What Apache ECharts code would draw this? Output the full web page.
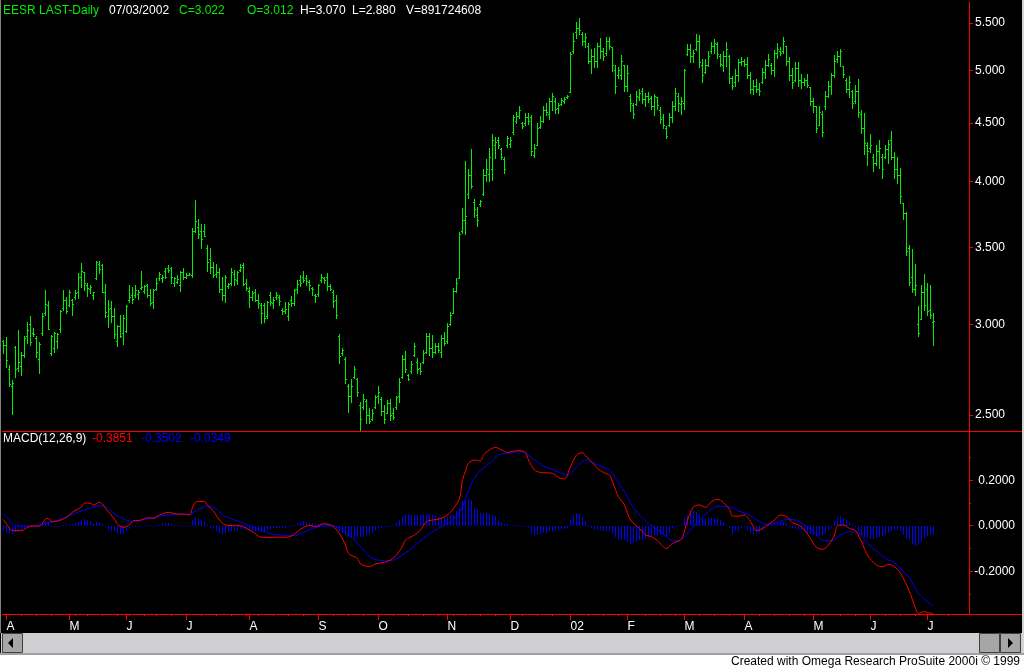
<!DOCTYPE html>
<html><head><meta charset="utf-8">
<script src="https://cdn.jsdelivr.net/npm/echarts/dist/echarts.min.js"></script>
<style>html,body{margin:0;padding:0;background:#000;}#chart{width:1024px;height:669px;}</style>
</head><body><div id="chart"></div>
<script>
// ---- Price data (EESR daily, bar index 0..310) ----
const opens = [
2.90,2.88,2.74,2.65,2.866,2.75,2.76,2.82,2.93,3.00,
2.95,2.92,2.80,2.95,3.07,3.12,2.83,2.86,2.90,2.97,
3.10,3.15,3.12,3.15,3.17,3.20,3.30,3.33,3.25,3.22,
3.18,3.29,3.39,3.38,3.20,3.05,3.10,3.05,2.90,2.99,
2.95,2.96,3.15,3.18,3.18,3.19,3.23,3.21,3.25,3.18,
3.14,3.22,3.29,3.29,3.34,3.36,3.36,3.26,3.27,3.25,
3.33,3.30,3.315,3.31,3.62,3.65,3.62,3.62,3.50,3.42,
3.37,3.32,3.33,3.22,3.18,3.24,3.26,3.32,3.28,3.35,
3.38,3.26,3.21,3.17,3.20,3.15,3.12,3.12,3.05,3.18,
3.13,3.17,3.17,3.09,3.08,3.05,3.15,3.13,3.22,3.28,
3.30,3.29,3.27,3.23,3.18,3.19,3.28,3.29,3.30,3.24,
3.20,3.15,2.93,2.83,2.80,2.65,2.60,2.70,2.69,2.55,
2.54,2.57,2.50,2.48,2.54,2.60,2.58,2.52,2.51,2.56,
2.51,2.54,2.60,2.70,2.80,2.71,2.73,2.82,2.78,2.75,
2.78,2.84,2.93,2.86,2.84,2.87,2.84,2.92,2.90,3.00,
3.07,3.21,3.29,3.62,3.70,3.90,4.05,3.84,3.74,3.82,
3.90,4.05,4.06,4.10,4.30,4.35,4.27,4.18,4.30,4.31,
4.42,4.52,4.56,4.50,4.50,4.55,4.55,4.22,4.30,4.46,
4.52,4.62,4.58,4.70,4.70,4.64,4.67,4.70,4.74,4.79,
5.20,5.40,5.45,5.38,5.30,5.25,5.10,5.15,5.10,5.25,
5.20,5.18,5.30,5.24,5.00,4.95,4.95,5.05,4.85,4.75,
4.66,4.67,4.74,4.80,4.72,4.75,4.73,4.65,4.74,4.62,
4.55,4.45,4.48,4.55,4.65,4.75,4.67,4.68,5.17,5.22,
5.15,5.22,5.30,5.05,4.98,5.05,5.20,5.25,5.27,5.15,
5.05,5.15,5.15,4.92,4.88,4.95,5.08,5.10,5.06,4.95,
4.82,4.85,4.82,4.88,4.98,5.05,5.05,5.00,5.18,5.20,
5.20,5.25,5.10,4.95,4.90,5.02,4.90,4.88,4.90,4.84,
4.70,4.65,4.48,4.58,4.65,4.75,4.85,4.95,5.12,5.15,
5.04,4.90,4.82,4.80,4.70,4.80,4.58,4.45,4.30,4.28,
4.20,4.15,4.25,4.20,4.20,4.27,4.35,4.20,4.10,4.05,
3.83,3.75,3.50,3.30,3.22,3.00,3.03,3.20,3.22,3.09,
3.012];
const highs = [
2.908,2.927,2.765,2.683,2.87,2.967,2.84,2.933,3.017,3.05,
2.98,2.933,2.893,3.068,3.215,3.145,2.937,2.957,2.947,3.088,
3.215,3.172,3.215,3.16,3.215,3.327,3.393,3.336,3.26,3.248,
3.204,3.408,3.408,3.388,3.254,3.151,3.147,3.098,2.997,3.058,
3.058,3.12,3.248,3.237,3.248,3.215,3.34,3.248,3.252,3.22,
3.22,3.29,3.336,3.314,3.36,3.38,3.37,3.30,3.314,3.34,
3.36,3.327,3.327,3.64,3.853,3.71,3.67,3.67,3.52,3.50,
3.40,3.386,3.36,3.30,3.314,3.26,3.36,3.347,3.34,3.388,
3.397,3.287,3.232,3.21,3.22,3.19,3.13,3.13,3.145,3.20,
3.172,3.204,3.18,3.10,3.14,3.14,3.177,3.22,3.28,3.31,
3.34,3.31,3.28,3.237,3.19,3.254,3.32,3.30,3.327,3.254,
3.215,3.183,2.943,2.862,2.81,2.66,2.688,2.76,2.693,2.567,
2.61,2.583,2.536,2.53,2.603,2.65,2.593,2.552,2.577,2.583,
2.536,2.60,2.693,2.821,2.844,2.715,2.787,2.89,2.804,2.776,
2.85,2.95,2.95,2.937,2.89,2.89,2.937,2.955,3.01,3.075,
3.23,3.29,3.61,3.79,4.17,4.10,4.27,3.86,3.80,3.853,
4.10,4.18,4.28,4.40,4.37,4.37,4.28,4.20,4.38,4.37,
4.57,4.60,4.655,4.51,4.59,4.59,4.57,4.31,4.50,4.56,
4.65,4.68,4.73,4.78,4.73,4.68,4.73,4.74,4.76,5.19,
5.39,5.51,5.56,5.40,5.39,5.28,5.22,5.23,5.28,5.34,
5.23,5.35,5.35,5.24,5.05,5.03,5.16,5.05,5.05,4.77,
4.68,4.80,4.82,4.83,4.78,4.79,4.75,4.77,4.74,4.645,
4.58,4.47,4.59,4.70,4.83,4.78,4.74,5.01,5.27,5.27,
5.21,5.38,5.37,5.12,5.12,5.20,5.29,5.33,5.29,5.17,
5.20,5.29,5.16,4.94,5.01,5.12,5.14,5.12,5.14,4.98,
4.90,4.91,4.87,5.02,5.11,5.17,5.07,5.21,5.28,5.24,
5.35,5.25,5.14,5.02,5.08,5.09,4.96,4.92,4.96,4.84,
4.73,4.655,4.655,4.61,4.80,4.89,4.97,5.16,5.20,5.22,
5.04,4.92,4.94,4.81,4.855,4.91,4.62,4.59,4.33,4.40,
4.23,4.30,4.35,4.23,4.30,4.35,4.43,4.24,4.20,4.11,
3.83,3.76,3.52,3.49,3.39,3.11,3.25,3.32,3.26,3.25,
3.070];
const lows = [
2.835,2.756,2.652,2.504,2.70,2.733,2.71,2.81,2.89,2.879,
2.933,2.81,2.72,2.937,3.058,2.971,2.82,2.84,2.863,2.957,
3.088,3.068,3.116,3.058,3.16,3.165,3.237,3.215,3.177,3.195,
3.16,3.287,3.327,3.20,3.047,2.987,3.017,2.917,2.875,2.927,
2.885,2.957,3.14,3.13,3.172,3.16,3.22,3.195,3.172,3.12,
3.10,3.215,3.28,3.269,3.29,3.33,3.26,3.24,3.26,3.21,
3.285,3.29,3.31,3.30,3.61,3.57,3.50,3.58,3.34,3.327,
3.30,3.303,3.204,3.151,3.14,3.226,3.248,3.244,3.254,3.343,
3.248,3.215,3.105,3.151,3.145,3.10,3.01,3.017,3.037,3.12,
3.10,3.16,3.12,3.062,3.068,3.027,3.116,3.12,3.198,3.24,
3.27,3.244,3.215,3.183,3.135,3.177,3.267,3.26,3.215,3.215,
3.105,3.037,2.776,2.821,2.666,2.516,2.567,2.693,2.60,2.42,
2.53,2.46,2.46,2.476,2.536,2.562,2.50,2.46,2.51,2.476,
2.48,2.53,2.567,2.693,2.727,2.683,2.72,2.816,2.72,2.715,
2.776,2.833,2.821,2.81,2.833,2.838,2.81,2.879,2.89,2.997,
3.07,3.20,3.29,3.605,3.60,3.87,3.95,3.72,3.66,3.81,
3.89,4.00,4.00,4.01,4.19,4.28,4.18,4.07,4.29,4.29,
4.40,4.50,4.545,4.45,4.48,4.49,4.22,4.20,4.30,4.45,
4.51,4.57,4.53,4.62,4.59,4.59,4.66,4.68,4.73,4.79,
5.18,5.34,5.38,5.26,5.24,5.07,4.97,5.03,5.03,5.13,
5.11,5.16,5.22,4.99,4.78,4.92,4.91,4.80,4.80,4.61,
4.54,4.66,4.71,4.68,4.65,4.69,4.63,4.57,4.63,4.50,
4.45,4.36,4.47,4.51,4.62,4.61,4.58,4.63,5.16,5.09,
5.08,5.21,5.03,4.88,4.97,5.04,5.18,5.18,5.13,5.04,
4.99,5.04,4.87,4.82,4.85,4.89,5.05,5.04,4.92,4.78,
4.77,4.79,4.76,4.87,4.92,5.04,4.96,4.94,5.13,5.16,
5.18,5.05,4.90,4.83,4.89,4.85,4.83,4.855,4.84,4.66,
4.60,4.42,4.48,4.38,4.63,4.74,4.77,4.93,5.09,5.04,
4.93,4.79,4.74,4.64,4.68,4.55,4.41,4.23,4.13,4.24,
4.08,4.13,4.11,4.03,4.19,4.15,4.18,4.03,3.99,3.83,
3.71,3.45,3.25,3.20,3.18,2.93,3.03,3.09,3.06,3.04,
2.880];
const closes = [
2.879,2.793,2.66,2.668,2.74,2.78,2.82,2.92,2.967,2.895,
2.94,2.84,2.884,3.05,3.125,2.975,2.93,2.95,2.94,3.08,
3.151,3.08,3.20,3.125,3.195,3.30,3.34,3.26,3.226,3.232,
3.20,3.40,3.352,3.20,3.075,3.092,3.053,2.943,2.99,2.93,
3.04,3.11,3.172,3.16,3.215,3.204,3.232,3.24,3.18,3.13,
3.215,3.258,3.32,3.303,3.303,3.347,3.30,3.29,3.287,3.33,
3.30,3.31,3.32,3.62,3.69,3.60,3.56,3.58,3.40,3.37,
3.31,3.336,3.22,3.183,3.30,3.255,3.33,3.287,3.33,3.37,
3.254,3.226,3.172,3.195,3.151,3.13,3.068,3.04,3.14,3.135,
3.151,3.18,3.147,3.08,3.092,3.125,3.13,3.215,3.254,3.258,
3.28,3.276,3.248,3.22,3.177,3.248,3.30,3.28,3.24,3.22,
3.145,3.058,2.815,2.85,2.688,2.60,2.65,2.74,2.62,2.48,
2.58,2.50,2.47,2.51,2.59,2.62,2.52,2.48,2.56,2.50,
2.49,2.59,2.67,2.80,2.74,2.69,2.77,2.87,2.74,2.73,
2.83,2.93,2.86,2.84,2.87,2.85,2.92,2.89,2.99,3.06,
3.21,3.26,3.60,3.70,3.73,4.05,3.96,3.78,3.70,3.845,
4.05,4.10,4.20,4.35,4.33,4.30,4.20,4.10,4.36,4.35,
4.55,4.56,4.62,4.47,4.55,4.52,4.25,4.28,4.45,4.52,
4.62,4.60,4.70,4.75,4.63,4.66,4.71,4.72,4.75,5.17,
5.30,5.45,5.42,5.30,5.35,5.10,5.15,5.10,5.25,5.20,
5.15,5.30,5.25,5.05,4.85,5.00,5.10,4.85,4.97,4.68,
4.58,4.75,4.78,4.72,4.75,4.72,4.65,4.75,4.66,4.53,
4.48,4.38,4.55,4.65,4.78,4.68,4.70,5.00,5.22,5.15,
5.18,5.30,5.08,4.95,5.05,5.15,5.25,5.28,5.17,5.06,
5.15,5.22,4.92,4.85,4.95,5.08,5.10,5.06,4.95,4.82,
4.85,4.82,4.80,4.98,5.05,5.12,5.00,5.18,5.22,5.18,
5.30,5.10,4.95,4.88,5.02,4.90,4.88,4.90,4.86,4.70,
4.65,4.45,4.60,4.42,4.75,4.85,4.95,5.10,5.15,5.20,
4.96,4.82,4.88,4.68,4.80,4.60,4.45,4.32,4.25,4.30,
4.15,4.25,4.28,4.10,4.27,4.31,4.20,4.10,4.05,3.88,
3.75,3.48,3.27,3.22,3.25,2.95,3.20,3.12,3.08,3.06,
3.022];

// ---- MACD(12,26,9) readings: [bar index, value] ----
const macdLine = [[0,0.028],[2,-0.012],[3,-0.022],[6,-0.022],[8,-0.007],[10,-0.001],[12,-0.001],[14,0.029],[15,0.032],[16,0.018],[18,0.020],[21,0.037],[23,0.059],[26,0.083],[27,0.100],[29,0.098],[30,0.091],[32,0.103],[33,0.094],[34,0.076],[37,0.029],[38,0.006],[40,-0.007],[42,0.003],[43,0.020],[46,0.025],[48,0.035],[50,0.032],[52,0.047],[55,0.059],[58,0.051],[60,0.051],[62,0.047],[63,0.081],[64,0.103],[67,0.107],[68,0.089],[70,0.064],[72,0.025],[74,0.003],[77,0.000],[79,0.000],[81,-0.012],[83,-0.026],[86,-0.051],[89,-0.051],[92,-0.050],[94,-0.051],[96,-0.045],[98,-0.026],[100,-0.007],[102,0.001],[104,-0.004],[107,0.009],[109,0.003],[110,-0.004],[112,-0.034],[114,-0.085],[115,-0.122],[118,-0.144],[119,-0.168],[122,-0.180],[124,-0.168],[127,-0.161],[129,-0.151],[131,-0.129],[133,-0.089],[134,-0.063],[137,-0.041],[139,-0.019],[141,0.018],[143,0.025],[146,0.032],[148,0.047],[150,0.076],[152,0.120],[153,0.201],[154,0.240],[155,0.275],[157,0.289],[159,0.284],[160,0.311],[162,0.333],[164,0.344],[166,0.333],[168,0.322],[170,0.328],[172,0.330],[174,0.321],[175,0.289],[177,0.245],[179,0.234],[183,0.230],[185,0.212],[187,0.205],[189,0.259],[191,0.311],[193,0.321],[194,0.308],[197,0.267],[198,0.252],[200,0.234],[202,0.223],[203,0.193],[205,0.127],[207,0.091],[209,0.025],[212,-0.012],[214,-0.041],[216,-0.048],[218,-0.066],[221,-0.100],[223,-0.078],[226,-0.059],[228,0.025],[230,0.083],[232,0.091],[234,0.081],[236,0.105],[238,0.116],[240,0.101],[242,0.072],[243,0.042],[245,0.042],[247,0.047],[249,0.018],[251,-0.022],[253,-0.012],[255,0.006],[257,0.025],[259,0.047],[261,0.040],[263,0.013],[265,0.003],[267,-0.019],[269,-0.056],[271,-0.095],[273,-0.104],[275,-0.085],[277,-0.041],[278,0.000],[280,0.003],[282,-0.012],[284,-0.022],[286,-0.070],[288,-0.129],[291,-0.173],[293,-0.180],[295,-0.170],[297,-0.180],[299,-0.209],[302,-0.290],[304,-0.363],[305,-0.385],[307,-0.378],[309,-0.385],[310,-0.3851]];
const signalLine = [[0,0.051],[2,0.025],[4,0.003],[8,-0.001],[11,-0.001],[13,0.007],[17,0.020],[20,0.032],[23,0.051],[27,0.069],[30,0.083],[33,0.088],[35,0.076],[37,0.051],[40,0.029],[43,0.020],[46,0.025],[49,0.032],[52,0.042],[55,0.047],[59,0.051],[62,0.051],[65,0.072],[68,0.086],[71,0.073],[73,0.047],[77,0.025],[80,0.013],[83,-0.007],[87,-0.026],[90,-0.038],[93,-0.041],[97,-0.044],[100,-0.029],[103,-0.012],[107,-0.001],[110,-0.001],[113,-0.019],[117,-0.063],[120,-0.107],[123,-0.144],[127,-0.154],[130,-0.151],[133,-0.129],[137,-0.089],[140,-0.056],[143,-0.026],[147,0.003],[150,0.029],[153,0.083],[154,0.120],[156,0.186],[158,0.230],[162,0.274],[165,0.311],[168,0.318],[172,0.325],[174,0.318],[177,0.289],[180,0.262],[183,0.248],[186,0.230],[188,0.223],[191,0.259],[194,0.289],[195,0.286],[198,0.267],[202,0.245],[204,0.208],[207,0.149],[209,0.098],[212,0.047],[215,0.010],[218,-0.019],[221,-0.048],[223,-0.066],[226,-0.060],[229,-0.019],[232,0.025],[235,0.062],[238,0.086],[242,0.083],[245,0.064],[248,0.051],[252,0.018],[254,0.006],[257,0.010],[261,0.028],[264,0.025],[267,0.003],[270,-0.026],[273,-0.063],[276,-0.066],[279,-0.041],[282,-0.026],[285,-0.031],[288,-0.078],[292,-0.122],[294,-0.144],[297,-0.163],[299,-0.188],[302,-0.231],[305,-0.297],[307,-0.324],[309,-0.346],[310,-0.3502]];
const histValues = [
-0.023,-0.03,-0.037,-0.035,-0.028,-0.024,-0.02,-0.012,-0.006,-0.003,0,
0,-0.004,0.01,0.02,0.02,0,0,-0.001,0,0.003,
0.004,0.006,0.008,0.012,0.015,0.025,0.03,0.025,0.019,0.008,0.015,0.018,0.006,-0.006,-0.02,-0.022,-0.022,-0.038,-0.035,-0.036,
-0.025,-0.015,0,0,0,0,0.003,0.005,0.002,0,0.003,0.005,0.008,0.01,0.012,0.008,0.004,0.001,0,0,-0.002,-0.004,
0.025,0.04,0.03,0.025,0.02,0.003,-0.01,-0.015,-0.025,-0.03,-0.035,-0.03,-0.027,-0.025,-0.022,-0.018,-0.015,-0.015,-0.02,-0.02,
-0.019,-0.022,-0.025,-0.028,-0.025,-0.018,-0.014,-0.012,-0.01,-0.009,-0.01,-0.008,-0.005,-0.002,0.005,0.012,0.018,0.022,0.018,0.013,0.01,0.006,0.008,0.01,0.01,0.006,0.004,-0.003,
-0.012,-0.025,-0.03,-0.04,-0.05,-0.053,-0.053,-0.05,-0.05,-0.048,-0.04,-0.035,-0.03,-0.02,-0.015,-0.01,-0.007,-0.003,0,0.005,0.013,0.025,0.04,0.05,0.05,0.048,0.048,0.048,0.048,0.05,0.052,0.05,0.048,0.045,0.04,0.035,0.035,0.04,0.045,0.047,0.065,0.08,0.11,
0.11,0.116,0.115,0.08,0.07,0.057,0.055,0.055,0.05,0.045,0.042,0.03,0.015,0.008,0.006,0.005,0.005,0.004,0.004,0,-0.003,-0.007,-0.03,-0.04,-0.04,-0.035,-0.033,-0.03,-0.025,-0.022,-0.02,-0.018,-0.016,-0.015,-0.01,0.025,0.045,0.054,
0.05,0.04,0.02,0.005,-0.01,-0.015,-0.017,-0.02,-0.022,-0.023,-0.025,-0.035,-0.05,-0.06,-0.063,-0.065,-0.07,-0.08,-0.078,-0.07,-0.065,-0.058,-0.052,-0.05,-0.045,-0.04,-0.04,-0.04,-0.04,-0.045,-0.03,-0.01,0,0.003,0.005,0.035,0.045,0.06,0.07,0.06,0.05,
0.04,0.03,0.032,0.035,0.032,0.03,0.025,0.015,0.005,-0.01,-0.035,-0.025,-0.022,-0.01,-0.005,-0.02,-0.03,-0.035,-0.038,-0.03,-0.02,-0.005,0.003,0.008,0.015,0.018,0.02,0.017,0.012,0,-0.01,-0.015,-0.02,-0.02,-0.022,-0.03,-0.035,-0.04,
-0.045,-0.043,-0.041,-0.03,-0.02,0,0.02,0.04,0.042,0.035,0.025,0.012,0.005,-0.005,-0.025,-0.04,-0.05,-0.055,-0.06,-0.058,-0.055,-0.05,-0.045,-0.035,-0.03,-0.025,-0.02,-0.02,-0.025,-0.04,-0.055,-0.065,-0.08,-0.088,-0.085,-0.07,-0.055,-0.045,-0.04,-0.0349];

// ---- Axis ticks / labels ----
const priceTicks = [2.5, 3.0, 3.5, 4.0, 4.5, 5.0, 5.5];
const macdTicks = [-0.2, 0, 0.2];
const macdMinorTicks = [-0.3, -0.1, 0.1, 0.3];
const monthLabels = ['A','M','J','J','A','S','O','N','D','02','F','M','A','M','J','J'];
const monthStartBar = [1,22,41,61,82,105,125,148,169,189,208,227,247,270,289,308];
const weekTickBars = [6,11,16,24,28,33,38,42,47,51,56,66,71,76,81,85,90,95,100,110,115,120,130,135,140,145,150,154,159,164,173,178,183,195,200,205,214,219,224,232,237,242,252,257,262,267,273,279,284,294,299,304,315];

// ---- styling ----
const GREEN = '#00ee00', RED = '#ff0000', BLUE = '#0000ff';
const FONT = '"Liberation Sans", Arial, sans-serif';
const X_MIN = -0.5, X_MAX = 321.8333;
const LN_MAX = 1.74699, LN_MIN = 0.88416;
const M_MIN = -0.3881, M_MAX = 0.4119;
const PLOT_W = 967, MACD_H = 182;

const priceData = closes.map((c, i) => [i, Math.log(opens[i]), Math.log(highs[i]), Math.log(lows[i]), Math.log(c)]);
const histData = histValues.map((v, i) => [i, v]);

function renderOHLC(params, api) {
  const i = api.value(0);
  const pO = api.coord([i, api.value(1)]);
  const pH = api.coord([i, api.value(2)]);
  const pL = api.coord([i, api.value(3)]);
  const pC = api.coord([i, api.value(4)]);
  const cx = Math.floor(pH[0]);
  const yH = Math.round(pH[1]), yL = Math.round(pL[1]);
  const st = { fill: GREEN };
  return { type: 'group', children: [
    { type: 'rect', shape: { x: cx, y: yH, width: 1, height: Math.max(1, yL - yH + 1) }, style: st },
    { type: 'rect', shape: { x: cx - 1, y: Math.round(pO[1]), width: 1, height: 1 }, style: st },
    { type: 'rect', shape: { x: cx + 1, y: Math.round(pC[1]), width: 1, height: 1 }, style: st }
  ]};
}
function renderHist(params, api) {
  const i = api.value(0), v = api.value(1);
  const p0 = api.coord([i, 0]);
  const p1 = api.coord([i, v]);
  const cx = Math.floor(p0[0]);
  const y0 = Math.round(p0[1]), y1 = Math.round(p1[1]);
  const top = Math.min(y0, y1), h = Math.max(1, Math.abs(y1 - y0));
  return { type: 'rect', shape: { x: cx, y: top, width: 1, height: h }, style: { fill: BLUE } };
}

function txt(x, y, text, color, align) {
  return { type: 'text', x: x, y: y, z: 100, silent: true,
    style: { text: text, fill: color, font: '12px ' + FONT, align: align || 'left', verticalAlign: 'middle' } };
}

const chart = echarts.init(document.getElementById('chart'), null, { renderer: 'canvas' });
chart.setOption({
  animation: false,
  backgroundColor: '#000',
  grid: [
    { left: 2, top: 2, width: PLOT_W, height: 429, outerBoundsMode: 'none', containLabel: false },
    { left: 2, top: 432, width: PLOT_W, height: MACD_H, outerBoundsMode: 'none', containLabel: false }
  ],
  xAxis: [
    { gridIndex: 0, type: 'value', min: X_MIN, max: X_MAX, show: false },
    { gridIndex: 1, type: 'value', position: 'bottom', min: X_MIN, max: X_MAX,
      axisLine: { show: false, onZero: false },
      axisTick: { show: true, customValues: monthStartBar, length: 6, inside: false, lineStyle: { color: RED, width: 1 } },
      axisLabel: { show: true, customValues: monthStartBar, align: 'left', margin: 7, color: '#fff', fontSize: 12, fontFamily: FONT,
        formatter: v => { const k = monthStartBar.indexOf(Math.round(v)); return k >= 0 ? monthLabels[k] : ''; } },
      splitLine: { show: false } },
    // weekly minor ticks: a top-positioned axis shifted down onto the bottom edge
    { gridIndex: 1, type: 'value', position: 'top', offset: -MACD_H, min: X_MIN, max: X_MAX,
      axisLine: { show: false, onZero: false },
      axisTick: { show: true, inside: true, customValues: weekTickBars, length: 2, lineStyle: { color: RED, width: 1 } },
      axisLabel: { show: false }, splitLine: { show: false } }
  ],
  yAxis: [
    { gridIndex: 0, type: 'value', position: 'right', min: LN_MIN, max: LN_MAX,
      axisLine: { show: true, onZero: false, lineStyle: { color: RED, width: 1 } },
      axisTick: { show: true, customValues: priceTicks.map(Math.log), length: 4, lineStyle: { color: RED, width: 1 } },
      axisLabel: { show: true, customValues: priceTicks.map(Math.log), margin: 6, color: '#fff', fontSize: 12, fontFamily: FONT,
        formatter: v => Math.exp(v).toFixed(3) },
      splitLine: { show: false } },
    { gridIndex: 1, type: 'value', position: 'right', min: M_MIN, max: M_MAX,
      axisLine: { show: true, onZero: false, lineStyle: { color: RED, width: 1 } },
      axisTick: { show: true, customValues: macdTicks, length: 4, lineStyle: { color: RED, width: 1 } },
      axisLabel: { show: true, customValues: macdTicks, margin: 46, align: 'right', color: '#fff', fontSize: 12, fontFamily: FONT,
        formatter: v => (Math.abs(v) < 1e-9 ? 0 : v).toFixed(4) },
      splitLine: { show: false } },
    // minor MACD ticks: a left-positioned axis shifted onto the right edge, ticks pointing right
    { gridIndex: 1, type: 'value', position: 'left', offset: -PLOT_W, min: M_MIN, max: M_MAX,
      axisLine: { show: false, onZero: false },
      axisTick: { show: true, inside: true, customValues: macdMinorTicks, length: 2, lineStyle: { color: RED, width: 1 } },
      axisLabel: { show: false }, splitLine: { show: false } }
  ],
  series: [
    { type: 'custom', name: 'EESR', xAxisIndex: 0, yAxisIndex: 0, data: priceData,
      encode: { x: 0, y: [1, 2, 3, 4] }, renderItem: renderOHLC, silent: true },
    { type: 'custom', name: 'Hist', xAxisIndex: 1, yAxisIndex: 1, data: histData,
      encode: { x: 0, y: 1 }, renderItem: renderHist, silent: true },
    { type: 'line', name: 'Signal', xAxisIndex: 1, yAxisIndex: 1, data: signalLine, showSymbol: false, symbol: 'none',
      smooth: 0.3, lineStyle: { color: BLUE, width: 1 }, silent: true },
    { type: 'line', name: 'MACD', xAxisIndex: 1, yAxisIndex: 1, data: macdLine, showSymbol: false, symbol: 'none',
      smooth: 0.3, lineStyle: { color: RED, width: 1 }, silent: true }
  ],
  graphic: [
    // pane dividers
    { type: 'rect', z: 90, silent: true, shape: { x: 2, y: 431, width: 1020, height: 1 }, style: { fill: RED } },
    { type: 'rect', z: 90, silent: true, shape: { x: 2, y: 614, width: 1020, height: 1 }, style: { fill: RED } },
    // window borders
    { type: 'rect', z: 90, silent: true, shape: { x: 0, y: 0, width: 1, height: 633 }, style: { fill: '#808080' } },
    { type: 'rect', z: 90, silent: true, shape: { x: 1022, y: 0, width: 2, height: 655 }, style: { fill: '#d4d4d4' } },
    // scrollbar
    { type: 'rect', z: 90, silent: true, shape: { x: 1, y: 633, width: 1021, height: 20 }, style: { fill: '#cfcfd1' } },
    { type: 'rect', z: 91, silent: true, shape: { x: 2.5, y: 633.5, width: 20, height: 19 }, style: { fill: '#a6a6a6', stroke: '#404040', lineWidth: 1 } },
    { type: 'polygon', z: 92, silent: true, shape: { points: [[8, 643], [13, 638], [13, 648]] }, style: { fill: '#000' } },
    { type: 'rect', z: 91, silent: true, shape: { x: 979.5, y: 633.5, width: 20, height: 19 }, style: { fill: '#a6a6a6', stroke: '#404040', lineWidth: 1 } },
    { type: 'rect', z: 91, silent: true, shape: { x: 1000.5, y: 633.5, width: 20, height: 19 }, style: { fill: '#a6a6a6', stroke: '#404040', lineWidth: 1 } },
    { type: 'polygon', z: 92, silent: true, shape: { points: [[1013, 643], [1008, 638], [1008, 648]] }, style: { fill: '#000' } },
    { type: 'rect', z: 90, silent: true, shape: { x: 0, y: 653, width: 1024, height: 2 }, style: { fill: '#a0a0a0' } },
    { type: 'rect', z: 90, silent: true, shape: { x: 0, y: 655, width: 1024, height: 14 }, style: { fill: '#ffffff' } },
    // header texts
    txt(3, 11, 'EESR LAST-Daily', GREEN),
    txt(109, 11, '07/03/2002', '#ffffff'),
    txt(179, 11, 'C=3.022', GREEN),
    txt(247, 11, 'O=3.012', GREEN),
    txt(300, 11, 'H=3.070', '#ffffff'),
    txt(352, 11, 'L=2.880', '#ffffff'),
    txt(406, 11, 'V=891724608', '#ffffff'),
    txt(3, 439, 'MACD(12,26,9)', '#ffffff'),
    txt(92, 439, '-0.3851', RED),
    txt(141, 439, '-0.3502', BLUE),
    txt(190, 439, '-0.0349', BLUE),
    txt(1020, 662, 'Created with Omega Research ProSuite 2000i \u00A9 1999', '#000000', 'right')
  ]
});
</script></body></html>
